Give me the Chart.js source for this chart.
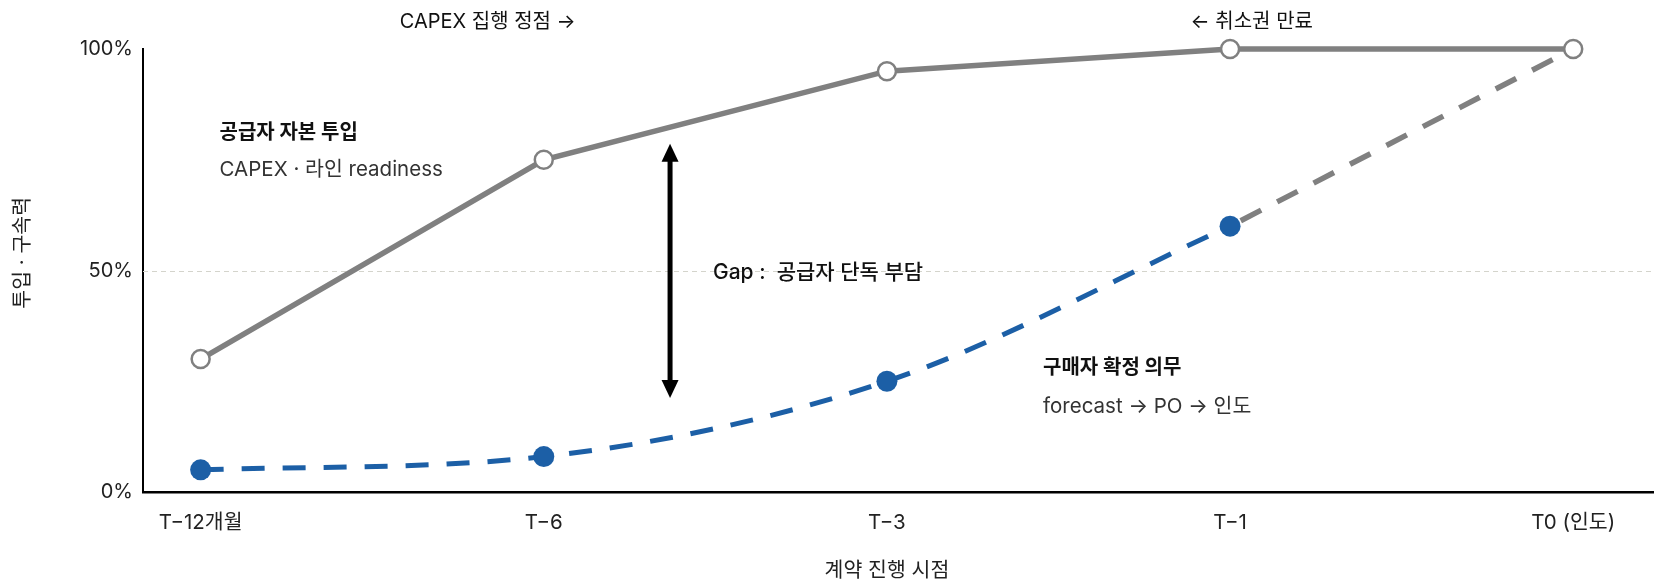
<!DOCTYPE html>
<html>
<head>
<meta charset="utf-8">
<script src="https://cdn.jsdelivr.net/npm/chart.js@4"></script>
<style>
  html, body { margin: 0; padding: 0; background: #ffffff; }
  #wrap { width: 1665px; height: 579px; position: relative; }
</style>
</head>
<body>
<div id="wrap"><canvas id="grafico"></canvas></div>
<script>
// datos del grafico
var etapas = ['T−12개월', 'T−6', 'T−3', 'T−1', 'T0 (인도)'];
var capitalProveedor = [30, 75, 95, 100, 100];
var compromisoComprador = [5, 8, 25, 60, null];
var tramoEntrega = [null, null, null, 60, 100];
var ticksY = [0, 50, 100];
var lineaGuia = 50;

var tituloX = '계약 진행 시점';
var tituloY = '투입 · 구속력';
var notaCapex = 'CAPEX 집행 정점 →';
var notaCancel = '← 취소권 만료';
var notaProveedor = ['공급자 자본 투입', 'CAPEX · 라인 readiness'];
var notaComprador = ['구매자 확정 의무', 'forecast → PO → 인도'];
var notaGap = 'Gap :  공급자 단독 부담';

var FUENTE = 'Inter, "Noto Sans CJK KR", "Noto Sans", sans-serif';
var GRIS = '#808080';
var AZUL = '#1c5fa6';

function puntos(arr) {
    var res = [];
    for (var i = 0; i < arr.length; i++) {
        res.push({ x: i, y: arr[i] });
    }
    return res;
}

var pluginGuia = {
    id: 'guia',
    beforeDatasetsDraw: function(chart) {
        var ctx = chart.ctx;
        var y = chart.scales.y.getPixelForValue(lineaGuia);
        ctx.save();
        ctx.strokeStyle = '#d4d4cc';
        ctx.lineWidth = 1;
        ctx.setLineDash([5, 4]);
        ctx.beginPath();
        ctx.moveTo(chart.chartArea.left, Math.round(y) + 0.5);
        ctx.lineTo(chart.chartArea.right, Math.round(y) + 0.5);
        ctx.stroke();
        ctx.restore();
    }
};

var pluginNotas = {
    id: 'notas',
    afterDatasetsDraw: function(chart) {
        var ctx = chart.ctx;
        var sx = chart.scales.x;
        var sy = chart.scales.y;
        ctx.save();
        ctx.fillStyle = '#111111';
        ctx.textBaseline = 'middle';
        ctx.textAlign = 'left';

        // notas superiores
        ctx.font = '20px ' + FUENTE;
        ctx.fillText(notaCapex, sx.getPixelForValue(0.58), chart.chartArea.top - 27);
        ctx.fillText(notaCancel, sx.getPixelForValue(2.885), chart.chartArea.top - 27);

        // proveedor
        ctx.font = 'bold 20px ' + FUENTE;
        ctx.fillText(notaProveedor[0], sx.getPixelForValue(0.055), sy.getPixelForValue(81));
        ctx.font = '20.5px ' + FUENTE;
        ctx.fillStyle = '#333333';
        ctx.fillText(notaProveedor[1], sx.getPixelForValue(0.055), sy.getPixelForValue(72.7));

        // comprador
        ctx.fillStyle = '#111111';
        ctx.font = 'bold 20px ' + FUENTE;
        ctx.fillText(notaComprador[0], sx.getPixelForValue(2.455), sy.getPixelForValue(28));
        ctx.font = '20.5px ' + FUENTE;
        ctx.fillStyle = '#333333';
        ctx.fillText(notaComprador[1], sx.getPixelForValue(2.455), sy.getPixelForValue(19.2));

        // gap
        ctx.fillStyle = '#111111';
        ctx.font = '500 21px ' + FUENTE;
        ctx.fillText(notaGap, sx.getPixelForValue(1.493), sy.getPixelForValue(49.4));

        // flecha doble
        var ax = sx.getPixelForValue(1.368);
        var y1 = sy.getPixelForValue(78.6);
        var y2 = sy.getPixelForValue(21.2);
        var cab = 18, anc = 8.5;
        ctx.strokeStyle = '#000000';
        ctx.fillStyle = '#000000';
        ctx.lineWidth = 5;
        ctx.beginPath();
        ctx.moveTo(ax, y1 + cab - 1);
        ctx.lineTo(ax, y2 - cab + 1);
        ctx.stroke();
        ctx.beginPath();
        ctx.moveTo(ax, y1);
        ctx.lineTo(ax - anc, y1 + cab);
        ctx.lineTo(ax + anc, y1 + cab);
        ctx.closePath();
        ctx.fill();
        ctx.beginPath();
        ctx.moveTo(ax, y2);
        ctx.lineTo(ax - anc, y2 - cab);
        ctx.lineTo(ax + anc, y2 - cab);
        ctx.closePath();
        ctx.fill();

        // titulos de ejes
        ctx.fillStyle = '#222222';
        ctx.font = '20.5px ' + FUENTE;
        ctx.textAlign = 'center';
        ctx.fillText(tituloX, sx.getPixelForValue(2), 571);
        ctx.save();
        ctx.translate(23, sy.getPixelForValue(54));
        ctx.rotate(-Math.PI / 2);
        ctx.fillText(tituloY, 0, 0);
        ctx.restore();

        ctx.restore();
    }
};

new Chart(document.getElementById('grafico'), {
    type: 'line',
    data: {
        datasets: [{
            label: '공급자 자본 투입',
            data: puntos(capitalProveedor),
            borderColor: GRIS,
            borderWidth: 5.5,
            pointRadius: 9,
            pointBackgroundColor: '#ffffff',
            pointBorderColor: GRIS,
            pointBorderWidth: 2.5,
            tension: 0,
            clip: false,
            order: 1
        }, {
            label: '구매자 확정 의무',
            data: puntos(compromisoComprador),
            borderColor: AZUL,
            backgroundColor: AZUL,
            borderWidth: 5,
            borderDash: [23, 18],
            pointRadius: 10.5,
            pointBackgroundColor: AZUL,
            pointBorderColor: AZUL,
            pointBorderWidth: 0,
            cubicInterpolationMode: 'monotone',
            clip: false,
            order: 2
        }, {
            label: 'link',
            data: puntos(tramoEntrega),
            borderColor: GRIS,
            borderWidth: 5.5,
            borderDash: [23, 18],
            borderDashOffset: -12,
            pointRadius: 0,
            clip: false,
            order: 3
        }]
    },
    options: {
        responsive: true,
        maintainAspectRatio: false,
        animation: false,
        layout: { padding: { top: 49, right: 0, left: 0, bottom: 0 } },
        plugins: {
            legend: { display: false },
            tooltip: { enabled: false }
        },
        scales: {
            x: {
                type: 'linear',
                min: -0.168,
                max: 4.234,
                afterBuildTicks: function(scale) {
                    scale.ticks = etapas.map(function(e, i) { return { value: i }; });
                },
                afterFit: function(scale) { scale.height = 87; },
                grid: { display: false, drawTicks: false },
                border: { display: true, color: '#000000', width: 2.5 },
                ticks: {
                    padding: 19,
                    color: '#222222',
                    font: { family: FUENTE, size: 20.5 },
                    maxRotation: 0,
                    autoSkip: false,
                    callback: function(v) { return etapas[v]; }
                }
            },
            y: {
                min: 0,
                max: 100,
                afterBuildTicks: function(scale) {
                    scale.ticks = ticksY.map(function(v) { return { value: v }; });
                },
                afterFit: function(scale) { scale.width = 143; },
                grid: { display: false, drawTicks: false },
                border: { display: true, color: '#000000', width: 2 },
                ticks: {
                    padding: 10,
                    color: '#222222',
                    font: { family: FUENTE, size: 20 },
                    callback: function(v) { return v + '%'; }
                }
            }
        }
    },
    plugins: [pluginGuia, pluginNotas]
});
</script>
</body>
</html>
